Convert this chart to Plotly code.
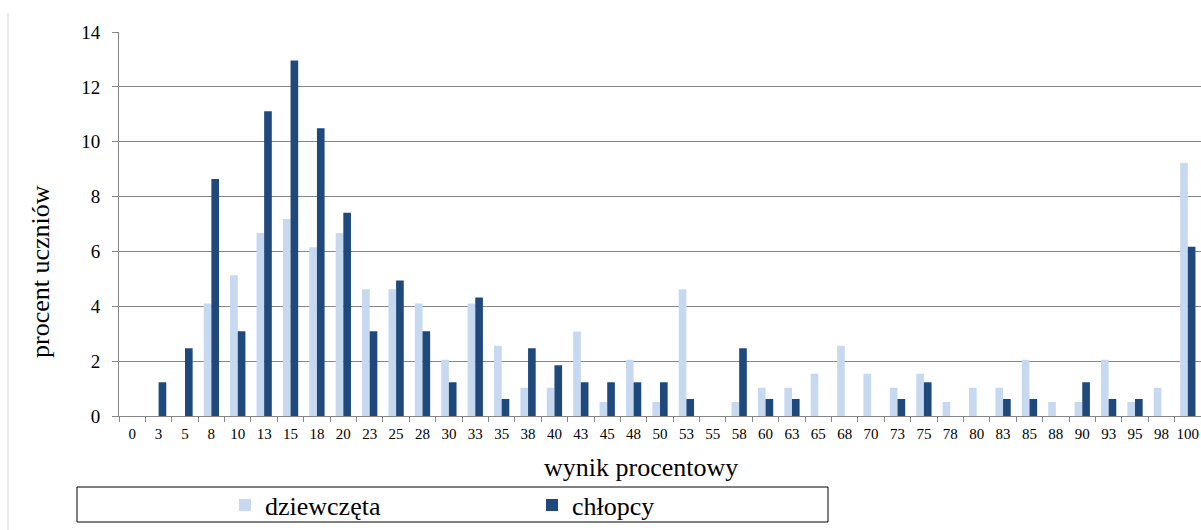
import plotly.graph_objects as go

categories = ["0", "3", "5", "8", "10", "13", "15", "18", "20", "23", "25", "28", "30", "33",
              "35", "38", "40", "43", "45", "48", "50", "53", "55", "58", "60", "63", "65", "68",
              "70", "73", "75", "78", "80", "83", "85", "88", "90", "93", "95", "98", "100"]

dziewczeta = [0, 0, 0, 4.10, 5.13, 6.67, 7.18, 6.15, 6.67, 4.62, 4.62, 4.10, 2.05, 4.10,
              2.56, 1.03, 1.03, 3.08, 0.51, 2.05, 0.51, 4.62, 0, 0.51, 1.03, 1.03, 1.54, 2.56,
              1.54, 1.03, 1.54, 0.51, 1.03, 1.03, 2.05, 0.51, 0.51, 2.05, 0.51, 1.03, 9.23]

chlopcy = [0, 1.23, 2.47, 8.64, 3.09, 11.11, 12.96, 10.49, 7.41, 3.09, 4.94, 3.09, 1.23, 4.32,
           0.62, 2.47, 1.85, 1.23, 1.23, 1.23, 1.23, 0.62, 0, 2.47, 0.62, 0.62, 0, 0,
           0, 0.62, 1.23, 0, 0, 0.62, 0.62, 0, 1.23, 0.62, 0.62, 0, 6.17]

y_ticks = [0, 2, 4, 6, 8, 10, 12, 14]

FONT = "Liberation Serif, Times New Roman, serif"
GRID = "#868686"

fig = go.Figure()
fig.add_trace(go.Bar(x=categories, y=dziewczeta, name="dziewczęta",
                     marker=dict(color="#C6D9F1", line=dict(width=0))))
fig.add_trace(go.Bar(x=categories, y=chlopcy, name="chłopcy",
                     marker=dict(color="#1F497D", line=dict(width=0))))

W, H = 1201, 530
L, R, T, B = 119, 0, 32, 114
pw, ph = W - L - R, H - T - B


def px(xp):
    return (xp - L) / pw


def py(yp):
    return (H - B - yp) / ph


fig.update_layout(
    width=W, height=H,
    margin=dict(l=L, r=R, t=T, b=B, pad=0, autoexpand=False),
    paper_bgcolor="white", plot_bgcolor="white",
    barmode="group", bargap=0.42, bargroupgap=0,
    font=dict(family=FONT, color="black"),
    showlegend=True,
    legend=dict(orientation="h", x=px(225), xanchor="left", y=py(505), yanchor="middle",
                font=dict(size=26, family=FONT, color="black"),
                entrywidth=262, entrywidthmode="pixels",
                bgcolor="rgba(0,0,0,0)", borderwidth=0, traceorder="normal"),
    xaxis=dict(type="category", showgrid=False, showline=True, linecolor=GRID, linewidth=1,
               ticks="outside", tickson="boundaries", ticklen=5, tickcolor=GRID,
               tickfont=dict(size=15, family=FONT, color="black"), ticklabelstandoff=4,
               range=[-0.5, len(categories) - 0.5], tickangle=0),
    yaxis=dict(range=[0, 14], tickvals=y_ticks, showgrid=True, gridcolor=GRID, gridwidth=1,
               showline=True, linecolor=GRID, linewidth=1, ticks="outside", ticklen=6,
               tickcolor=GRID, tickfont=dict(size=19, family=FONT, color="black"),
               ticklabelstandoff=8, zeroline=False),
    annotations=[
        dict(text="procent uczniów", xref="paper", yref="paper", x=px(40), y=py(272),
             textangle=-90, showarrow=False, font=dict(size=26, family=FONT, color="black"),
             xanchor="center", yanchor="middle"),
        dict(text="wynik procentowy", xref="paper", yref="paper", x=px(641), y=py(467),
             showarrow=False, font=dict(size=26, family=FONT, color="black"),
             xanchor="center", yanchor="middle"),
    ],
    shapes=[
        dict(type="rect", xref="paper", yref="paper", x0=px(77), x1=px(828), y0=py(522), y1=py(487),
             line=dict(color="black", width=1), fillcolor="rgba(0,0,0,0)", layer="below"),
        dict(type="line", xref="paper", yref="paper", x0=px(8), x1=px(8), y0=py(13), y1=py(530),
             line=dict(color="#D9D9D9", width=1)),
    ],
)

fig.write_html("out.html", config={"displayModeBar": False},
               post_script="document.body.style.margin='0';document.body.style.padding='0';")
